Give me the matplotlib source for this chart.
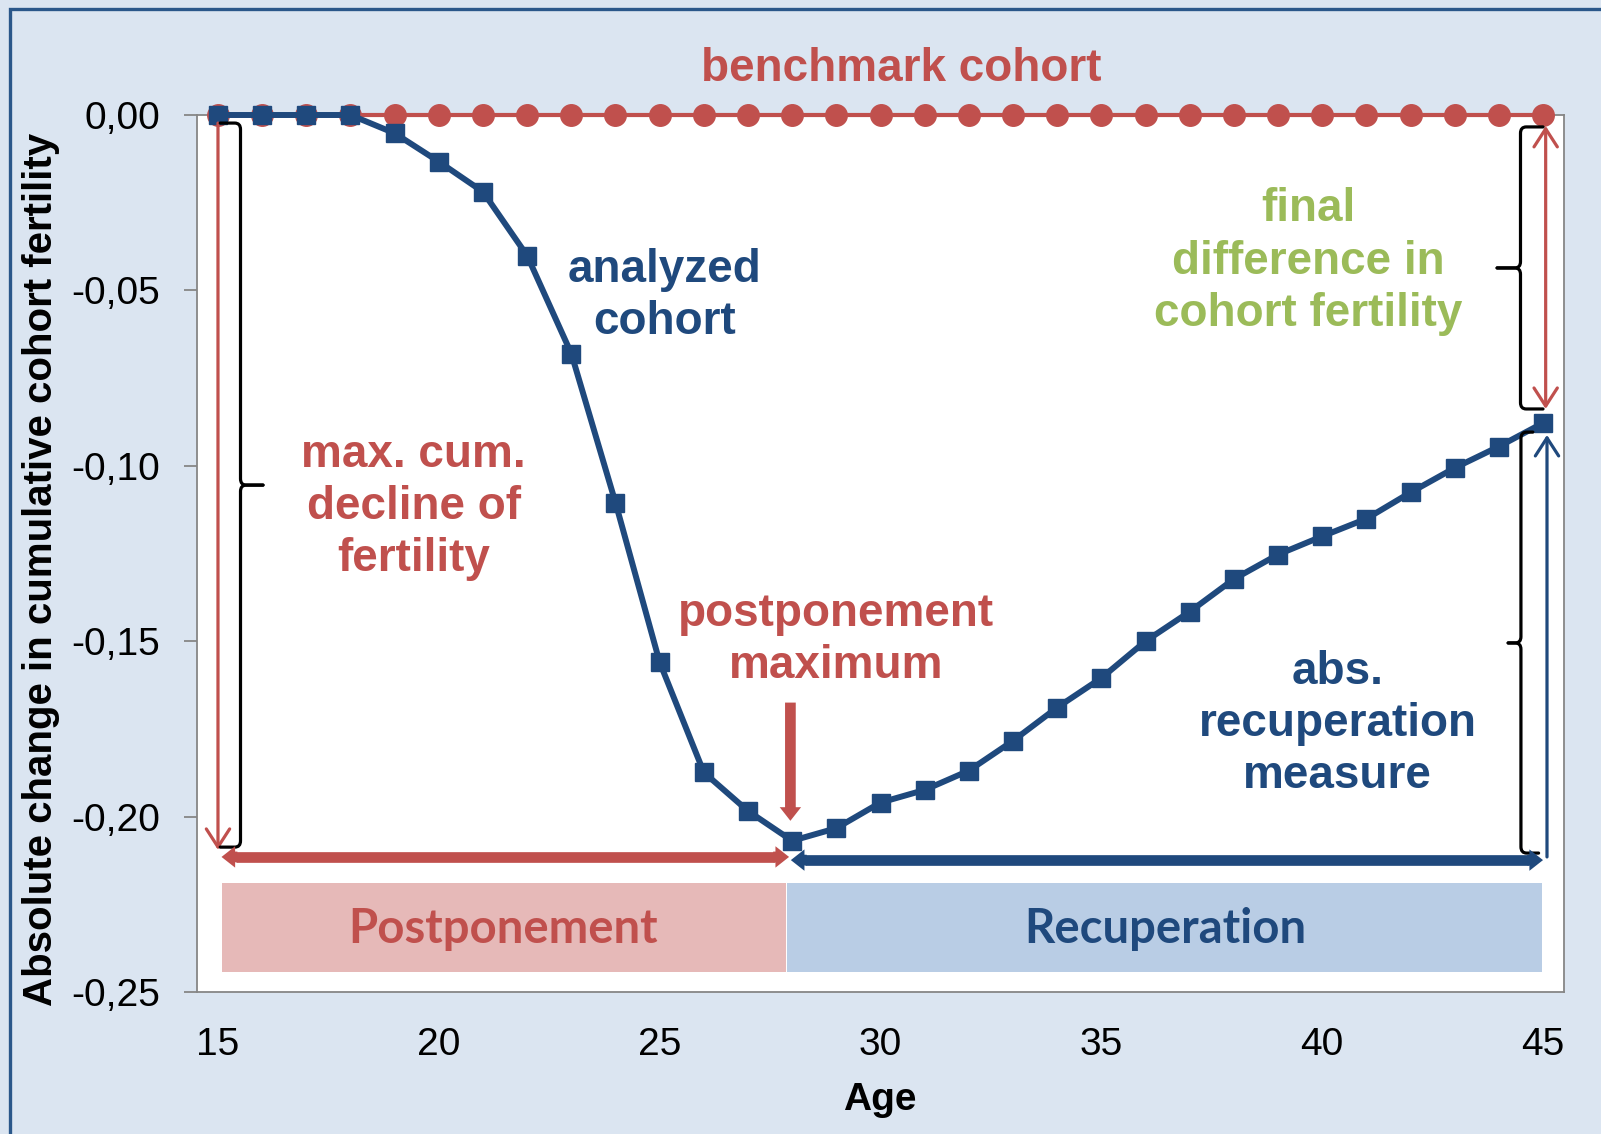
import matplotlib
matplotlib.use('Agg')
import matplotlib.pyplot as plt
import numpy as np
from matplotlib.patches import Rectangle, FancyArrowPatch, PathPatch
from matplotlib.path import Path

# ---------------- data ----------------
ages = [15, 16, 17, 18, 19, 20, 21, 22, 23, 24, 25, 26, 27, 28, 29, 30,
        31, 32, 33, 34, 35, 36, 37, 38, 39, 40, 41, 42, 43, 44, 45]
benchmark = [0.0, 0.0, 0.0, 0.0, 0.0, 0.0, 0.0, 0.0, 0.0, 0.0, 0.0, 0.0,
             0.0, 0.0, 0.0, 0.0, 0.0, 0.0, 0.0, 0.0, 0.0, 0.0, 0.0, 0.0,
             0.0, 0.0, 0.0, 0.0, 0.0, 0.0, 0.0]
analyzed = [0.0, 0.0, 0.0, 0.0, -0.0052, -0.0133, -0.0219, -0.0401, -0.0680,
            -0.1105, -0.1560, -0.1874, -0.1984, -0.2069, -0.2033, -0.1960,
            -0.1924, -0.1869, -0.1784, -0.1689, -0.1605, -0.1500, -0.1416,
            -0.1323, -0.1253, -0.1201, -0.1151, -0.1076, -0.1006, -0.0945,
            -0.0878]
ytick_values = [0.00, -0.05, -0.10, -0.15, -0.20, -0.25]
ytick_labels = ['0,00', '-0,05', '-0,10', '-0,15', '-0,20', '-0,25']
xtick_values = [15, 20, 25, 30, 35, 40, 45]
xtick_labels = ['15', '20', '25', '30', '35', '40', '45']
phase_names = ['Postponement', 'Recuperation']

RED = '#c0504d'
BLUE = '#1f497d'
GREEN = '#9bbb59'
BG = '#dbe5f1'
PINK = '#e6b9b8'
LBLUE = '#b9cde5'
GRAY = '#868686'
FONT = 'Liberation Sans'

W, H = 1601, 1134
fig = plt.figure(figsize=(W / 100, H / 100), dpi=100, facecolor=BG)
# dark-blue frame (left & top visible)
fig.patches.append(Rectangle((10 / W, -0.1), 1.2, 1 - 9 / H + 0.1,
                             transform=fig.transFigure, fill=False,
                             ec='#2a578a', lw=2.4))

ax = fig.add_axes([197 / W, 1 - 992 / H, (1564 - 197) / W, (992 - 115) / H])
ax.set_facecolor('white')
ax.set_xlim(14.525, 45.475)
ax.set_ylim(-0.25, 0.0)
for s in ax.spines.values():
    s.set_color(GRAY)
    s.set_linewidth(1.3)

ax.set_yticks(ytick_values)
ax.set_yticklabels(ytick_labels, fontsize=28, family=FONT)
ax.set_xticks(xtick_values)
ax.set_xticklabels(xtick_labels, fontsize=28, family=FONT)
ax.tick_params(axis='y', length=9.5, width=1.3, color=GRAY, pad=17)
ax.tick_params(axis='x', length=0, pad=25)

ax.set_ylabel('Absolute change in cumulative cohort fertility',
              fontsize=29, fontweight='bold', family=FONT)
ax.yaxis.set_label_coords((41 - 197) / 1367, (992 - 569) / 877)
ax.yaxis.label.set_va('center')
ax.set_xlabel('Age', fontsize=28, fontweight='bold', family=FONT)
ax.xaxis.set_label_coords((880 - 197) / 1367, (992 - 1100) / 877)
ax.xaxis.label.set_va('center')

# phase boxes
ax.add_patch(Rectangle((15.08, -0.2442), 27.86 - 15.08, 0.0252,
                       fc=PINK, ec='none', zorder=1))
ax.add_patch(Rectangle((27.88, -0.2442), 44.98 - 27.88, 0.0252,
                       fc=LBLUE, ec='none', zorder=1))
ax.text(21.46, -0.2319, phase_names[0], ha='center', va='center',
        fontsize=34, fontweight='bold', family='Lato', color=RED, zorder=2)
ax.text(36.44, -0.2319, phase_names[1], ha='center', va='center',
        fontsize=34, fontweight='bold', family='Lato', color=BLUE, zorder=2)

# series
ax.plot(ages, benchmark, color=RED, lw=3, marker='o', ms=15.5,
        clip_on=False, zorder=3)
ax.plot(ages, analyzed, color=BLUE, lw=4.3, marker='s', ms=13.5,
        clip_on=False, zorder=4)


def thin_arrow(p0, p1, color, style):
    ax.add_patch(FancyArrowPatch(p0, p1,
                                 arrowstyle=style + ',head_length=0.65,head_width=0.42',
                                 mutation_scale=20, color=color, lw=2.3,
                                 shrinkA=0, shrinkB=0, zorder=5, clip_on=False))


def thick_arrow(p0, p1, color):
    ax.add_patch(FancyArrowPatch(p0, p1,
                                 arrowstyle='simple,head_length=0.7,head_width=1.1,tail_width=0.55',
                                 mutation_scale=14, fc=color, ec='none', lw=0,
                                 shrinkA=0, shrinkB=0, zorder=6, clip_on=False))


def thick_double(x0, x1, y, color):
    hl = 0.36
    ax.plot([x0 + hl - 0.04, x1 - hl + 0.04], [y, y], color=color, lw=7.7,
            solid_capstyle='butt', zorder=6, clip_on=False)
    thick_arrow((x0 + hl, y), (x0, y), color)
    thick_arrow((x1 - hl, y), (x1, y), color)


def brace(xl, ytop, ybot, xhook_top, xhook_bot, xtip, ytip):
    ry = 0.0018
    dx = 0.13
    for yend, xh, sgn in ((ytop, xhook_top, -1), (ybot, xhook_bot, 1)):
        cx = xl + np.sign(xh - xl) * dx
        tx = xl + np.sign(xtip - xl) * dx
        verts = [(xh, yend), (cx, yend), (xl, yend), (xl, yend + sgn * ry),
                 (xl, ytip - sgn * ry), (xl, ytip), (tx, ytip), (xtip, ytip)]
        codes = [Path.MOVETO, Path.LINETO, Path.CURVE3, Path.CURVE3,
                 Path.LINETO, Path.CURVE3, Path.CURVE3, Path.LINETO]
        ax.add_patch(PathPatch(Path(verts, codes), fill=False, ec='black',
                               lw=2.3, zorder=5, clip_on=False,
                               capstyle='round', joinstyle='round'))


# left: max cumulative decline
thin_arrow((15.0, -0.0023), (15.0, -0.2095), RED, '->')
brace(15.51, -0.0023, -0.2087, 15.05, 15.05, 16.02, -0.1055)
# right top: final difference
thin_arrow((45.06, -0.0031), (45.06, -0.0838), RED, '<->')
brace(44.49, -0.0034, -0.0838, 45.0, 45.0, 43.96, -0.0436)
# right bottom: recuperation
thin_arrow((45.09, -0.2115), (45.09, -0.0912), BLUE, '->')
brace(44.50, -0.0904, -0.2104, 44.77, 44.9, 44.21, -0.1505)

# thick horizontal arrows
thick_double(15.08, 27.93, -0.2115, RED)
thick_double(27.97, 45.0, -0.2124, BLUE)
# postponement maximum arrow
thick_arrow((27.96, -0.1675), (27.96, -0.2012), RED)

# text labels
tkw = dict(ha='center', va='center', fontsize=33, fontweight='bold',
           family=FONT, linespacing=1.24, zorder=7)
ax.text(30.48, 0.0130, 'benchmark cohort', color=RED, clip_on=False, **tkw)
ax.text(25.11, -0.0515, 'analyzed\ncohort', color=BLUE, **tkw)
ax.text(19.43, -0.1117, 'max. cum.\ndecline of\nfertility', color=RED, **tkw)
ax.text(29.0, -0.1497, 'postponement\nmaximum', color=RED, **tkw)
ax.text(39.68, -0.0418, 'final\ndifference in\ncohort fertility', color=GREEN, **tkw)
ax.text(40.35, -0.1737, 'abs.\nrecuperation\nmeasure', color=BLUE, **tkw)

fig.savefig('out.png', dpi=100, facecolor=BG)
